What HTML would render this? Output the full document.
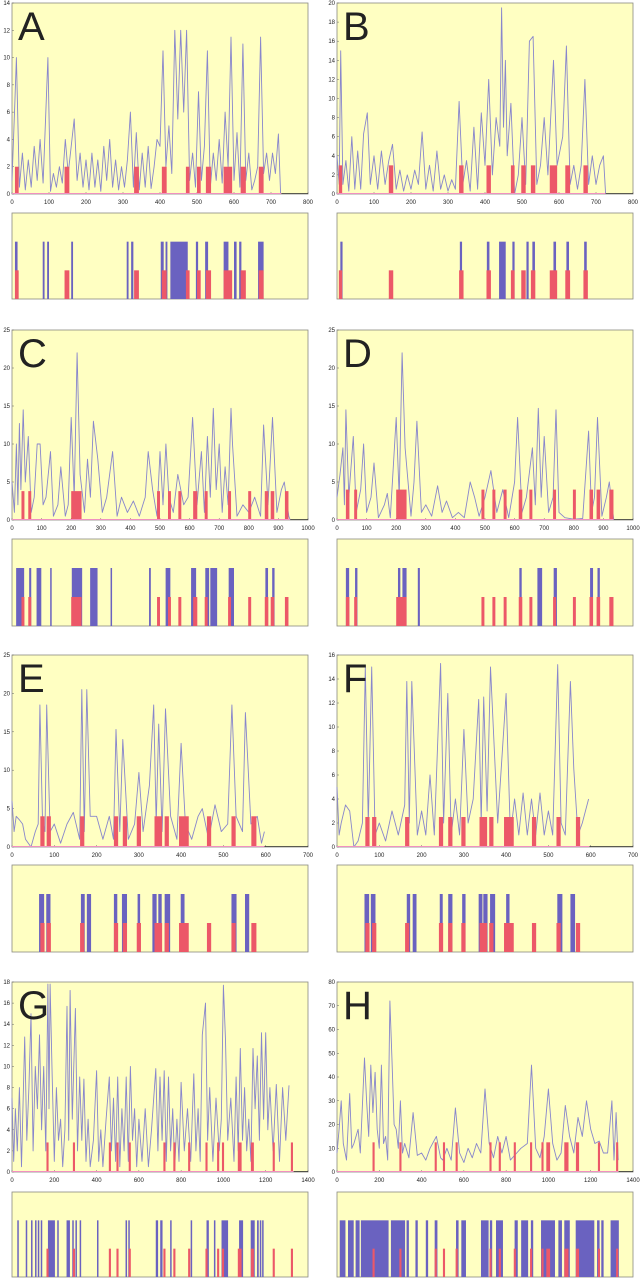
<!DOCTYPE html>
<html><head><meta charset="utf-8">
<style>
html,body{margin:0;padding:0;background:#fff;}
svg{display:block;font-family:"Liberation Sans",sans-serif;}
</style></head>
<body>
<svg id="fig" width="640" height="1280" viewBox="0 0 640 1280" xmlns="http://www.w3.org/2000/svg"></svg>
<script>
// ---------- Panel A ----------
const aX=[0,8,12,20,28,36,44,52,60,68,76,84,90,97,104,112,120,128,136,144,152,160,168,176,184,192,200,208,216,224,232,240,248,256,264,272,280,288,296,304,312,320,328,336,344,352,360,368,376,384,392,400,408,416,424,432,440,448,456,464,472,480,488,496,504,512,520,528,536,544,552,560,568,576,584,592,600,608,616,624,632,640,648,656,664,672,680,688,696,704,712,720,726];
const aY=[1,7,10,0.5,3,0.3,2.5,0.5,3.5,1,4,0.8,5,10,0.2,1.5,0.5,2,0.8,4,1.5,3.5,5.5,1,3,0.5,2.5,0.3,3,0.5,2.5,0.2,3.5,1,4,0.5,2.5,0.3,2,0.5,2.5,6,0.5,4.5,0.3,3,0.5,3.5,0.4,2,4,3.5,10.5,2,5,1.5,12,5.5,12,6,12,1,3,0.5,7.5,1,3.5,10.5,0.5,3,1,4,0.8,6,2,11.5,1,4.5,0.5,11,1,3,0.3,1,2,11.5,1.5,3,1,3,1.5,4.4,0];
const aRed=[[8,18],[142,155],[330,343],[405,418],[470,480],[500,510],[524,538],[572,595],[618,632],[667,680]];
const aBlue=[[8,15],[83,88],[95,100],[160,165],[310,315],[322,328],[402,410],[415,420],[428,475],[497,503],[522,530],[572,585],[600,607],[614,620],[665,680]];
const aYTicks=[0,2,4,6,8,10,12,14];
const aXTicks=[0,100,200,300,400,500,600,700,800];
// ---------- Panel B ----------
const bX=[0,6,10,16,24,32,40,48,56,64,72,82,90,100,110,120,130,140,150,160,170,180,190,200,210,220,230,240,250,260,270,280,290,300,310,320,330,340,350,360,370,380,390,400,410,420,430,440,445,450,455,460,470,480,490,500,510,520,530,540,550,560,570,585,595,610,620,630,640,650,660,670,680,690,700,710,720,726];
const bY=[4,1,15,1,3.5,0.3,6,0.5,4.5,0.5,6.3,8.5,1,4,0.5,4.5,1,3.5,5.2,0.5,2.5,0.3,2,0.5,2.5,1,6.5,0.5,3,0.3,4.5,0.5,2,0.3,1.5,0.5,9.7,1,3.5,0.3,7,0.5,8.5,3,12,2,8,5,19.5,7,14,4,9.5,0,2,8,1,16,16.5,1,3,8,2,14,3,6,15.5,1,3,0.5,3,12,1,4,1,3,4,0];
const bRed=[[5,14],[140,152],[330,342],[404,416],[470,480],[498,510],[524,536],[575,595],[617,630],[666,678]];
const bBlue=[[9,15],[332,338],[405,412],[438,456],[474,480],[512,518],[528,535],[585,592],[620,627],[668,675]];
const bYTicks=[0,2,4,6,8,10,12,14,16,18,20];
const bXTicks=[0,100,200,300,400,500,600,700,800];
// ---------- Panel C ----------
const cX=[0,8,15,20,25,30,38,45,55,65,75,85,95,105,115,130,140,155,165,180,190,200,210,220,230,245,255,265,275,290,305,320,340,355,370,390,410,430,450,460,475,490,500,510,520,530,545,560,580,595,610,625,640,650,660,670,680,690,700,710,720,730,740,745,760,780,800,820,840,850,865,880,895,910,920,935,940];
const cY=[5,1,10,2,12.7,4,14.5,5,11,1,3,10,10,2,3,9,0.5,2,7,0.5,2,13.5,3,22,6,1,8,3,13,8,1,3,9,0.5,3,1,2.5,0.5,3,9,4,0.5,9,2,10,3,1,6,2,3,13.5,2,9,1,11,3,14.7,4,10,1,7,2,14.7,10,0.5,2,1,3,0.5,12.5,2,13.5,1,4,5,0.5,0];
const cRed=[[32,42],[55,65],[200,235],[490,500],[527,537],[562,572],[612,626],[651,661],[730,740],[798,808],[854,866],[874,886],[922,934]];
const cBlue=[[14,41],[58,65],[83,99],[129,133],[202,237],[264,289],[333,338],[463,469],[519,535],[605,622],[653,666],[670,693],[732,750],[856,865],[879,887]];
const cYTicks=[0,5,10,15,20,25];
const cXTicks=[0,100,200,300,400,500,600,700,800,900,1000];
// ---------- Panel D ----------
const dX=[0,10,20,25,30,40,55,65,80,90,100,115,125,140,160,170,180,200,210,220,230,250,260,270,285,300,320,340,355,370,390,410,430,450,465,480,500,520,540,560,580,600,610,625,640,660,670,680,690,700,715,730,740,750,770,800,830,850,860,870,880,895,910,920,935];
const dY=[3,6,9.5,2,14.5,3,11,1,4,10,1,3,7.5,0.3,2,3.5,0.3,13.5,3,22,9.5,0.5,5,13,1,2,0.5,4.5,1,2.5,0.3,1,0.3,5,3,0.5,3,6.5,1,4,0.3,5,13.5,1,3,9.5,2,14.7,3,11,1,3,14.5,1,0.3,0.1,0.2,11.7,1,3,13.5,0.5,3,5,0];
const dRed=[[30,42],[58,68],[200,235],[488,498],[525,535],[563,573],[614,626],[650,660],[730,740],[797,807],[853,865],[877,889],[920,934]];
const dBlue=[[30,41],[61,69],[206,214],[221,235],[273,280],[616,624],[677,693],[732,743],[855,865],[880,888]];
const dYTicks=[0,5,10,15,20,25];
const dXTicks=[0,100,200,300,400,500,600,700,800,900,1000];
// ---------- Panel E ----------
const eX=[0,5,10,18,25,32,45,55,62,66,72,78,82,90,100,115,130,145,160,165,171,177,185,200,215,230,240,246,255,262,275,290,300,310,325,335,341,347,355,363,375,390,400,410,425,440,450,465,480,495,510,520,530,545,552,565,580,590,597];
const eY=[6,2,4,3.5,3,1,0,2,3,18.5,4,2,18.5,2,3,0.5,3,4.5,1,20.5,2,20.5,4,4,1,4,1,15.3,2,14,1,3,9.7,2,8,18.5,3,16,2,18,4,1,13.5,3,1,4,5,1,5.5,2,3,18.5,4,2,17.5,3,4,0.5,2];
const eRed=[[67,77],[82,92],[161,171],[241,251],[262,272],[295,305],[337,355],[361,371],[395,418],[461,471],[519,529],[566,578]];
const eBlue=[[64,76],[81,91],[163,172],[177,187],[241,249],[260,272],[297,303],[332,342],[346,354],[361,374],[399,408],[519,531],[551,561]];
const eYTicks=[0,5,10,15,20,25];
const eXTicks=[0,100,200,300,400,500,600,700];
// ---------- Panel F ----------
const fX=[0,5,10,20,30,40,50,60,67,74,82,90,100,115,130,145,160,165,171,177,190,200,210,220,230,245,252,262,270,280,290,300,310,322,335,341,347,355,363,380,400,410,420,430,440,450,460,470,480,490,500,510,522,530,540,552,560,570,580,595];
const fY=[5,1,2,3.5,3,0,0.5,2,15,2,15,1,2,0.5,3,1,3.5,13.8,2,13.8,1,3,1,6,1,15.3,2,12.8,1,4,1,9.8,2,4,12.3,2,12.5,3,15,2,12.8,1,4,1,4.5,1,4,1,4.5,1,3,1,15.2,2,1,13.8,6.5,1,2,4];
const fRed=[[67,77],[83,93],[161,171],[241,251],[263,273],[294,304],[337,355],[360,370],[395,418],[461,471],[519,529],[565,575]];
const fBlue=[[65,76],[80,91],[165,173],[179,188],[243,250],[263,273],[296,304],[335,344],[346,356],[362,374],[400,408],[521,533],[552,563]];
const fYTicks=[0,2,4,6,8,10,12,14,16];
const fXTicks=[0,100,200,300,400,500,600,700];
// ---------- Panel G ----------
const gX=[0,8,16,25,35,45,60,70,80,90,100,110,120,130,140,150,160,170,175,180,190,200,210,220,230,240,250,260,268,275,285,300,310,320,330,340,350,360,370,385,400,410,420,430,445,460,470,480,490,500,510,520,530,540,550,560,570,580,590,600,615,630,645,660,680,690,700,710,720,730,740,750,760,770,780,790,800,815,830,845,860,870,880,890,900,915,925,935,950,965,980,990,1000,1010,1020,1035,1050,1060,1070,1080,1090,1100,1110,1120,1130,1140,1150,1160,1170,1180,1190,1200,1210,1220,1235,1250,1265,1280,1295,1310,1320,1330];
const gY=[7,1,6,2,8,0.5,12.8,3,8,15,2,10,6,13,4,10,2,17.8,6,17.8,9,1,8,3,5,0.5,4,15.7,3,17.2,5,15.5,2,9,3,8.8,1,5,0.5,3,9.6,1,4,0.5,5,9,2,7,1,9,0.5,6,2,9,1,10,3,6,0.5,5,1,6,0.5,4,9.8,2,9,3,9.6,1,9,2,6,0.5,5,1,8.5,2,6,1,9.3,2,6,1,13,16,3,8,1,7,2,5,17.7,12.5,3,7,1,9,2,11.7,3,8,2,5,1,11.7,6,11,3,13.2,5,13.2,4,8,2,8.3,1,8,3,8.2];
const gRed=[[163,173],[288,298],[458,468],[494,504],[552,562],[716,726],[763,773],[833,843],[915,925],[970,980],[993,1003],[1068,1086],[1130,1144],[1233,1243],[1319,1329]];
const gBlue=[[25,29],[65,69],[90,94],[109,113],[122,126],[136,142],[170,203],[214,218],[258,274],[285,291],[300,304],[320,324],[402,406],[537,543],[550,554],[680,691],[701,712],[748,752],[845,850],[920,931],[955,960],[991,1022],[1074,1093],[1129,1148],[1159,1167],[1172,1176],[1183,1187]];
const gYTicks=[0,2,4,6,8,10,12,14,16,18];
const gXTicks=[0,200,400,600,800,1000,1200,1400];
// ---------- Panel H ----------
const hX=[0,10,20,30,45,60,70,80,100,110,120,130,140,150,160,170,180,190,200,210,220,230,240,250,260,270,280,290,300,310,320,340,360,380,400,420,440,470,490,500,520,540,560,580,600,620,640,660,680,700,720,740,760,780,800,820,850,870,900,920,940,960,980,1000,1020,1040,1060,1080,1100,1120,1140,1160,1180,1200,1220,1240,1260,1280,1300,1310,1320,1330];
const hY=[8,18,30,12,5,33,10,12,18,8,28,48,30,15,45,25,42,18,10,45,12,15,5,72,47,20,18,10,30,8,12,6,25,7,8,5,10,15,6,5,10,5,27,8,4,10,6,12,8,35,12,6,15,8,15,5,8,10,12,45,10,6,15,35,12,5,8,28,15,8,23,15,30,18,12,13,8,8,30,5,25,5];
const hRed=[[168,178],[295,305],[462,472],[501,511],[561,571],[721,731],[765,775],[836,846],[913,923],[967,977],[990,1008],[1075,1095],[1130,1145],[1234,1244],[1320,1330]];
const hBlue=[[13,40],[52,79],[88,107],[113,244],[255,322],[329,340],[371,382],[420,431],[462,475],[563,575],[588,610],[681,717],[723,734],[752,785],[840,855],[871,904],[917,928],[965,1031],[1047,1064],[1075,1101],[1129,1217],[1230,1242],[1250,1261],[1294,1333]];
const hYTicks=[0,10,20,30,40,50,60,70,80];
const hXTicks=[0,200,400,600,800,1000,1200,1400];

const NS='http://www.w3.org/2000/svg';
const svg=document.getElementById('fig');
function mk(tag,attrs,parent){const e=document.createElementNS(NS,tag);for(const k in attrs)e.setAttribute(k,attrs[k]);(parent||svg).appendChild(e);return e;}

function panel(letter,L,xs,ys,red,blue,yTicks,xTicks,redH,lineEnd){
  const g=mk('g',{});
  
  
  const xmax=xTicks[xTicks.length-1], ymax=yTicks[yTicks.length-1];
  const sx=v=>L.x0+(v/xmax)*(L.x1-L.x0);
  const sy=v=>L.yb-(v/ymax)*(L.yb-L.yt);
  const bg=mk('rect',{x:L.x0,y:L.yt,width:L.x1-L.x0,height:L.yb-L.yt,fill:'#ffffc2',stroke:'#8a8a80','stroke-width':0.8},g);
  
  
  yTicks.forEach(t=>{
    const tx=mk('text',{x:L.x0-2,y:sy(t)+2,'font-size':6,'text-anchor':'end',fill:'#222'},g);
    tx.textContent=t;
    
    
    mk('line',{x1:L.x0,x2:L.x0+2,y1:sy(t),y2:sy(t),stroke:'#666','stroke-width':0.5},g);
  });
  xTicks.forEach(t=>{
    const tx=mk('text',{x:sx(t),y:L.yb+10,'font-size':6,'text-anchor':'middle',fill:'#222'},g);
    tx.textContent=t;
    
    
    mk('line',{x1:sx(t),x2:sx(t),y1:L.yb,y2:L.yb-2,stroke:'#666','stroke-width':0.5},g);
  });
  const pts=xs.map((x,i)=>sx(x).toFixed(1)+','+sy(ys[i]).toFixed(1)).join(' ');
  const pl=mk('polyline',{points:pts,fill:'none',stroke:'#8886cc','stroke-width':0.9,'stroke-linejoin':'round'},g);
  
  
  red.forEach(r=>{
    const b=mk('rect',{x:sx(r[0]),y:sy(redH),width:Math.max(1.5,sx(r[1])-sx(r[0])),height:sy(0)-sy(redH),fill:'#ec5868'},g);
    
    
  });
  mk('line',{x1:L.x0,x2:sx(lineEnd),y1:L.yb-0.5,y2:L.yb-0.5,stroke:'#f090c0','stroke-width':1},g);
  mk('line',{x1:sx(lineEnd),x2:L.x1,y1:L.yb-0.5,y2:L.yb-0.5,stroke:'#333','stroke-width':0.8},g);
  const lt=mk('text',{x:L.x0+6,y:L.yt+37,'font-size':40,fill:'#222'},g);
  lt.textContent=letter;
  
  
  const h=L.bb-L.bt;
  const bb=mk('rect',{x:L.x0,y:L.bt,width:L.x1-L.x0,height:h,fill:'#ffffc2',stroke:'#8a8a80','stroke-width':0.8},g);
  
  
  blue.forEach(r=>{
    const b=mk('rect',{x:sx(r[0]),y:L.bt+h/3,width:Math.max(1.5,sx(r[1])-sx(r[0])),height:h*2/3,fill:'#6a62c0'},g);
    
    
  });
  red.forEach(r=>{
    const b=mk('rect',{x:sx(r[0]),y:L.bt+h*2/3,width:Math.max(1.5,sx(r[1])-sx(r[0])),height:h/3,fill:'#ec5868'},g);
    
    
  });
}
const rows=[[3,194,213,299],[330,520,539,626],[655,847,865,952],[982,1172,1192,1277]];
const cols=[[12,308],[337,633]];
function lay(r,c){return {x0:cols[c][0],x1:cols[c][1],yt:rows[r][0],yb:rows[r][1],bt:rows[r][2],bb:rows[r][3]};}
panel('A',lay(0,0),aX,aY,aRed,aBlue,aYTicks,aXTicks,2,728);
panel('B',lay(0,1),bX,bY,bRed,bBlue,bYTicks,bXTicks,3,726);
panel('C',lay(1,0),cX,cY,cRed,cBlue,cYTicks,cXTicks,3.8,940);
panel('D',lay(1,1),dX,dY,dRed,dBlue,dYTicks,dXTicks,4,935);
panel('E',lay(2,0),eX,eY,eRed,eBlue,eYTicks,eXTicks,4,597);
panel('F',lay(2,1),fX,fY,fRed,fBlue,fYTicks,fXTicks,2.5,597);
panel('G',lay(3,0),gX,gY,gRed,gBlue,gYTicks,gXTicks,2.8,1332);
panel('H',lay(3,1),hX,hY,hRed,hBlue,hYTicks,hXTicks,12.5,1332);
</script>
</body></html>
